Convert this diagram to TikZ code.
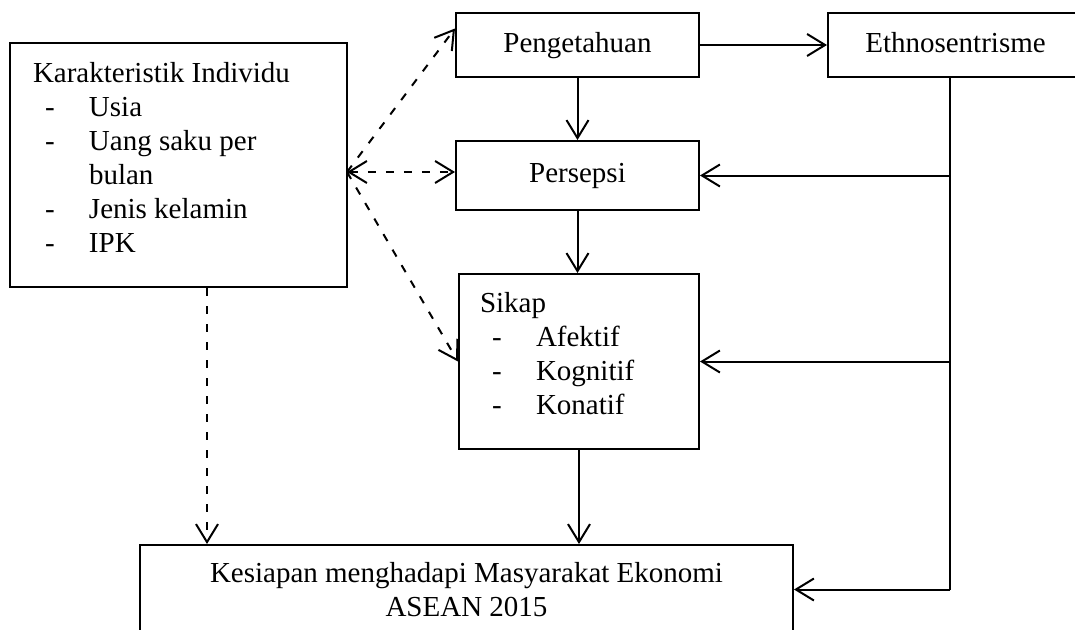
\documentclass[tikz,border=0pt]{standalone}
\usepackage{fontspec}
\setmainfont{Liberation Serif}
\usetikzlibrary{arrows.meta,calc}

\newcommand{\dashitem}[1]{\hspace*{12pt}\makebox[44pt][l]{-}#1}

\begin{document}
\begin{tikzpicture}[x=1pt, y=-1pt, node distance=130.5pt, auto,
	line width=2pt,
	font=\fontsize{29}{34}\selectfont,
	>={Straight Barb[length=18pt,width=22pt]},
	box/.style={draw, inner sep=0pt},
	oneline/.style={box, text height=20pt, text depth=6pt},
	dsh/.style={dash pattern=on 8pt off 10pt}]
	\useasboundingbox (0,0) rectangle (1075,629);
	\node[box, minimum width=337pt, minimum height=244pt] (Indiv) at (178.5,165) {};
	\node[anchor=north west, align=left, inner sep=0pt] (IndivTxt) at (32,61.2) {Karakteristik Individu\\\dashitem{Usia}\\\dashitem{Uang saku per}\\\hspace*{56pt}bulan\\\dashitem{Jenis kelamin}\\\dashitem{IPK}};
	\node[oneline, minimum width=243pt, minimum height=64pt] (Peng) at (577.5,45) {Pengetahuan};
	\node[oneline, minimum width=255pt, minimum height=64pt] (Etno) [node distance=378pt, right of=Peng] {Ethnosentrisme};
	\node[oneline, minimum width=243pt, minimum height=69pt] (Pers) [below of=Peng] {Persepsi};
	\node[box, minimum width=240pt, minimum height=175pt] (Sikap) at (579,361.5) {};
	\node[anchor=north west, align=left, inner sep=0pt] (SikapTxt) at (479,291.2) {Sikap\\\dashitem{Afektif}\\\dashitem{Kognitif}\\\dashitem{Konatif}};
	\node[box, align=center, minimum width=653pt, minimum height=89pt] (Siap) at (466.5,589.5) {Kesiapan menghadapi Masyarakat Ekonomi\\ASEAN 2015};
	\coordinate (IndivOut) at (347,172);
	\coordinate (IndivDown) at ($(Indiv.south west)+(198,0)$);
	\coordinate (Bus) at ($(Etno.south west)+(123,0)$);
	\draw[->] (Peng) to (Etno);
	\draw[->] (Peng) to (Pers);
	\draw[->] (Pers.south) to (Pers.south |- Sikap.north);
	\draw[->] (Sikap.south) to (Sikap.south |- Siap.north);
	\draw[dsh,->] (IndivOut) to ($(Peng.north west)!0.25!(Peng.south west)$);
	\draw[dsh,<->] (IndivOut) to (IndivOut -| Pers.west);
	\draw[dsh,->] (IndivOut) to (Sikap.west);
	\draw[dsh,->] (IndivDown) to (IndivDown |- Siap.north);
	\draw (Bus) to (Bus |- Siap.east);
	\draw[->] (Bus |- Pers.east) to (Pers.east);
	\draw[->] (Bus |- Sikap.east) to (Sikap.east);
	\draw[->] (Bus |- Siap.east) to (Siap.east);
\end{tikzpicture}
\end{document}
